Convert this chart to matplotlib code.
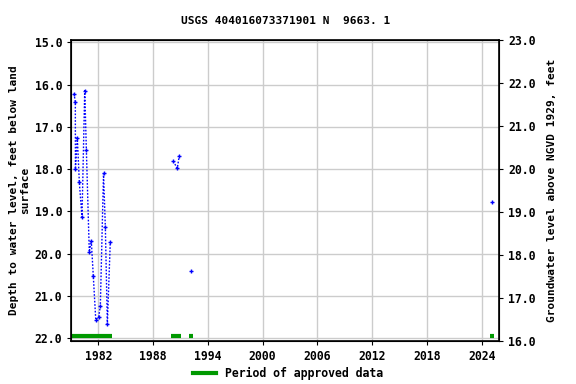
import matplotlib
matplotlib.use("Agg")
import matplotlib.pyplot as plt
import numpy as np

# water level measurements (decimal year, depth below land surface in ft)
years = [1979.34, 1979.48, 1979.49, 1979.70, 1979.92, 1980.21, 1980.51, 1980.69,
         1981.01, 1981.23, 1981.45, 1981.72, 1982.04, 1982.22, 1982.57, 1982.77,
         1982.99, 1983.31,
         1990.21, 1990.65, 1990.87,
         1992.19,
         2025.15]
depth = [16.21, 16.41, 18.00, 17.25, 18.31, 19.14, 16.14, 17.55,
         19.96, 19.70, 20.53, 21.57, 21.50, 21.24, 18.10, 19.38,
         21.67, 19.72,
         17.81, 17.98, 17.68,
         20.41,
         18.78]

# periods of approved data (start, end)
approved_start = [1979.08, 1989.96, 1991.93, 2024.90]
approved_end = [1983.47, 1991.06, 1992.37, 2025.30]

xticks = [1982, 1988, 1994, 2000, 2006, 2012, 2018, 2024]
left_ticks = [15.0, 16.0, 17.0, 18.0, 19.0, 20.0, 21.0, 22.0]
right_ticks = [16.0, 17.0, 18.0, 19.0, 20.0, 21.0, 22.0, 23.0]

font = "DejaVu Sans Mono"
fs = 8.3

fig = plt.figure(figsize=(5.76, 3.84), dpi=100)
ax = fig.add_axes([0.1238, 0.1128, 0.743, 0.7843])

# split into connected groups where gap is large
yr = np.array(years)
dp = np.array(depth)
breaks = np.where(np.diff(yr) > 1.0)[0] + 1
for gy, gd in zip(np.split(yr, breaks), np.split(dp, breaks)):
    ax.plot(gy, gd, color="blue", linestyle=(0, (1.2, 1.2)), linewidth=1.0,
            marker="+", markersize=3.5, markeredgewidth=1.0)

for s, e in zip(approved_start, approved_end):
    ax.hlines(21.96, s, e, color="#009900", linewidth=3.0)

ax.set_xlim(1979.04, 2025.93)
ax.set_ylim(22.06, 14.93)
ax.set_xticks(xticks)
ax.set_yticks(left_ticks)
ax.set_yticklabels([f"{v:.1f}" for v in left_ticks])
ax.grid(True, color="#cccccc", linewidth=1.0)
ax.set_axisbelow(True)
for sp in ax.spines.values():
    sp.set_linewidth(1.2)
ax.tick_params(direction="out", length=3, labelsize=fs)
for lbl in ax.get_xticklabels() + ax.get_yticklabels():
    lbl.set_fontfamily(font)
    lbl.set_fontweight("bold")

ax.set_ylabel("Depth to water level, feet below land\nsurface",
              fontsize=8, fontfamily=font, fontweight="bold", labelpad=3)
ax.set_title("USGS 404016073371901 N  9663. 1", fontsize=8,
             fontfamily=font, fontweight="bold", pad=11)

ax2 = ax.twinx()
ax2.set_ylim(16.0, 23.0)
ax2.set_yticks(right_ticks)
ax2.set_yticklabels([f"{v:.1f}" for v in right_ticks])
ax2.tick_params(direction="out", length=3, labelsize=fs)
for lbl in ax2.get_yticklabels():
    lbl.set_fontfamily(font)
    lbl.set_fontweight("bold")
ax2.set_ylabel("Groundwater level above NGVD 1929, feet", fontsize=8,
               fontfamily=font, fontweight="bold", labelpad=8)

handle = plt.Line2D([], [], color="#009900", linewidth=3.0)
fig.legend([handle], ["Period of approved data"], loc="center",
           bbox_to_anchor=(0.5, 0.028), frameon=False, handlelength=2.0,
           prop={"family": font, "weight": "bold", "size": fs})

fig.savefig("out.png", dpi=100)
